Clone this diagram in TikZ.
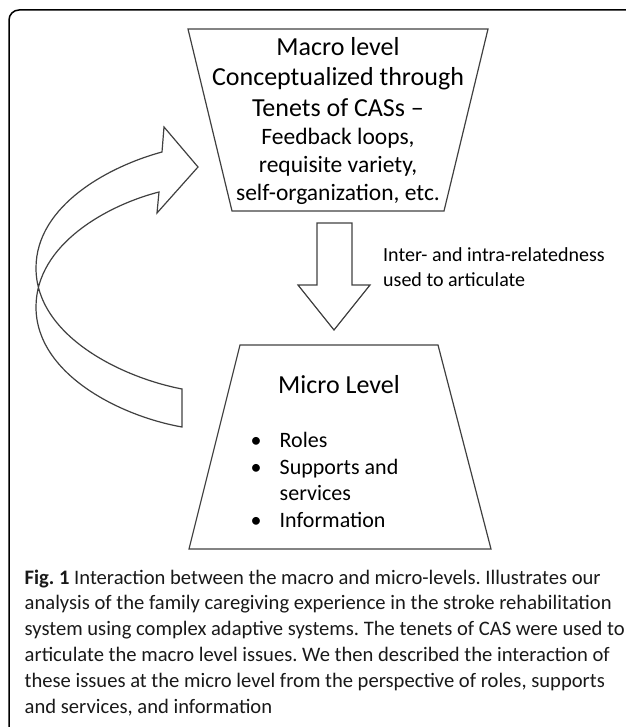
\documentclass[tikz,border=0pt]{standalone}
\usepackage{fontspec}
\setmainfont{Carlito}
\frenchspacing
\tikzset{
  shapeline/.style={draw=black!75, line width=1.2pt, line join=miter},
  bigtext/.style={font=\fontsize{26}{30}\selectfont, inner sep=0pt, anchor=base},
  listtext/.style={font=\fontsize{23.5}{28}\selectfont, inner sep=0pt, anchor=base},
  sidetext/.style={font=\fontsize{20}{25}\selectfont, inner sep=0pt, anchor=base west},
  itemtext/.style={font=\fontsize{22}{26}\selectfont, inner sep=0pt, anchor=base west},
  captext/.style={font=\fontsize{20.6}{25}\selectfont, inner sep=0pt, anchor=base west, text=black!90}
}
\begin{document}
\begin{tikzpicture}[x=1pt,y=-1pt]
\useasboundingbox (0,0) rectangle (625,727);
% Frame of the figure, runs off the page on the right and at the bottom
\draw[line width=1.5pt, rounded corners=10pt] (9,760) -- (9,10) -- (660,10);

% Macro level box (wide at the top)
\coordinate (macroNW) at (188,29);
\coordinate (macroNE) at (488,29);
\coordinate (macroSE) at (444,211);
\coordinate (macroSW) at (232,211);
\draw[shapeline] (macroNW) -- (macroNE) -- (macroSE) -- (macroSW) -- cycle;
% Heading of the macro box
\foreach \txt [count=\i] in {Macro level, Conceptualized through, Tenets of CASs --}
  \node[bigtext] (macro\i) at (338,{24.9+30.5*\i}) {\txt};
% Tenets listed under the heading
\foreach \txt [count=\i] in {{Feedback loops,}, {requisite variety,}, {self-organization, etc.}}
  \node[listtext] (tenet\i) at (338,{116.5+28*\i}) {\txt};

% Block arrow from macro down to micro
\draw[shapeline] (317,223) -- (352,223) -- (352,285) -- (370,285)
  -- (334,330) -- (298,285) -- (317,285) -- cycle;
% Label beside the down arrow
\node[sidetext] (rel1) at (383,261.5) {Inter- and intra-relatedness};
\node[sidetext] (rel2) at (383,286.5) {used to articulate};

% Micro level box (wide at the bottom)
\coordinate (microNW) at (240,345);
\coordinate (microNE) at (438,345);
\coordinate (microSE) at (491,549);
\coordinate (microSW) at (189,549);
\draw[shapeline] (microNW) -- (microNE) -- (microSE) -- (microSW) -- cycle;
\node[bigtext] (micro) at (339,393.5) {Micro Level};
% Bullet list in the micro box
\foreach \yy in {447, 474, 527}
  \node[itemtext, anchor=base] at (256,\yy) {\textbullet};
\node[itemtext] (roles) at (279.5,447) {Roles};
\node[itemtext] (supp) at (279.5,474) {Supports and};
\node[itemtext] (serv) at (279.5,500.5) {services};
\node[itemtext] (info) at (279.5,527) {Information};

% Curved feedback arrow from micro back up to macro
\draw[shapeline] (182,389) .. controls (120,377) and (36,335) .. (36,268)
  .. controls (36,205) and (110,166) .. (162,152)
  -- (164,127) -- (198,167) -- (157,213) -- (159,192)
  .. controls (108,205) and (36,244) .. (36,307)
  .. controls (36,374) and (120,416) .. (182,427) -- cycle;

% Caption
\foreach \capline [count=\k] in {
  {\textbf{Fig. 1} Interaction between the macro and micro-levels. Illustrates our},
  {analysis of the family caregiving experience in the stroke rehabilitation},
  {system using complex adaptive systems. The tenets of CAS were used to},
  {articulate the macro level issues. We then described the interaction of},
  {these issues at the micro level from the perspective of roles, supports},
  {and services, and information}}
  \node[captext] (cap\k) at (24.5,{558.2+25.8*\k}) {\capline};
\end{tikzpicture}
\end{document}
